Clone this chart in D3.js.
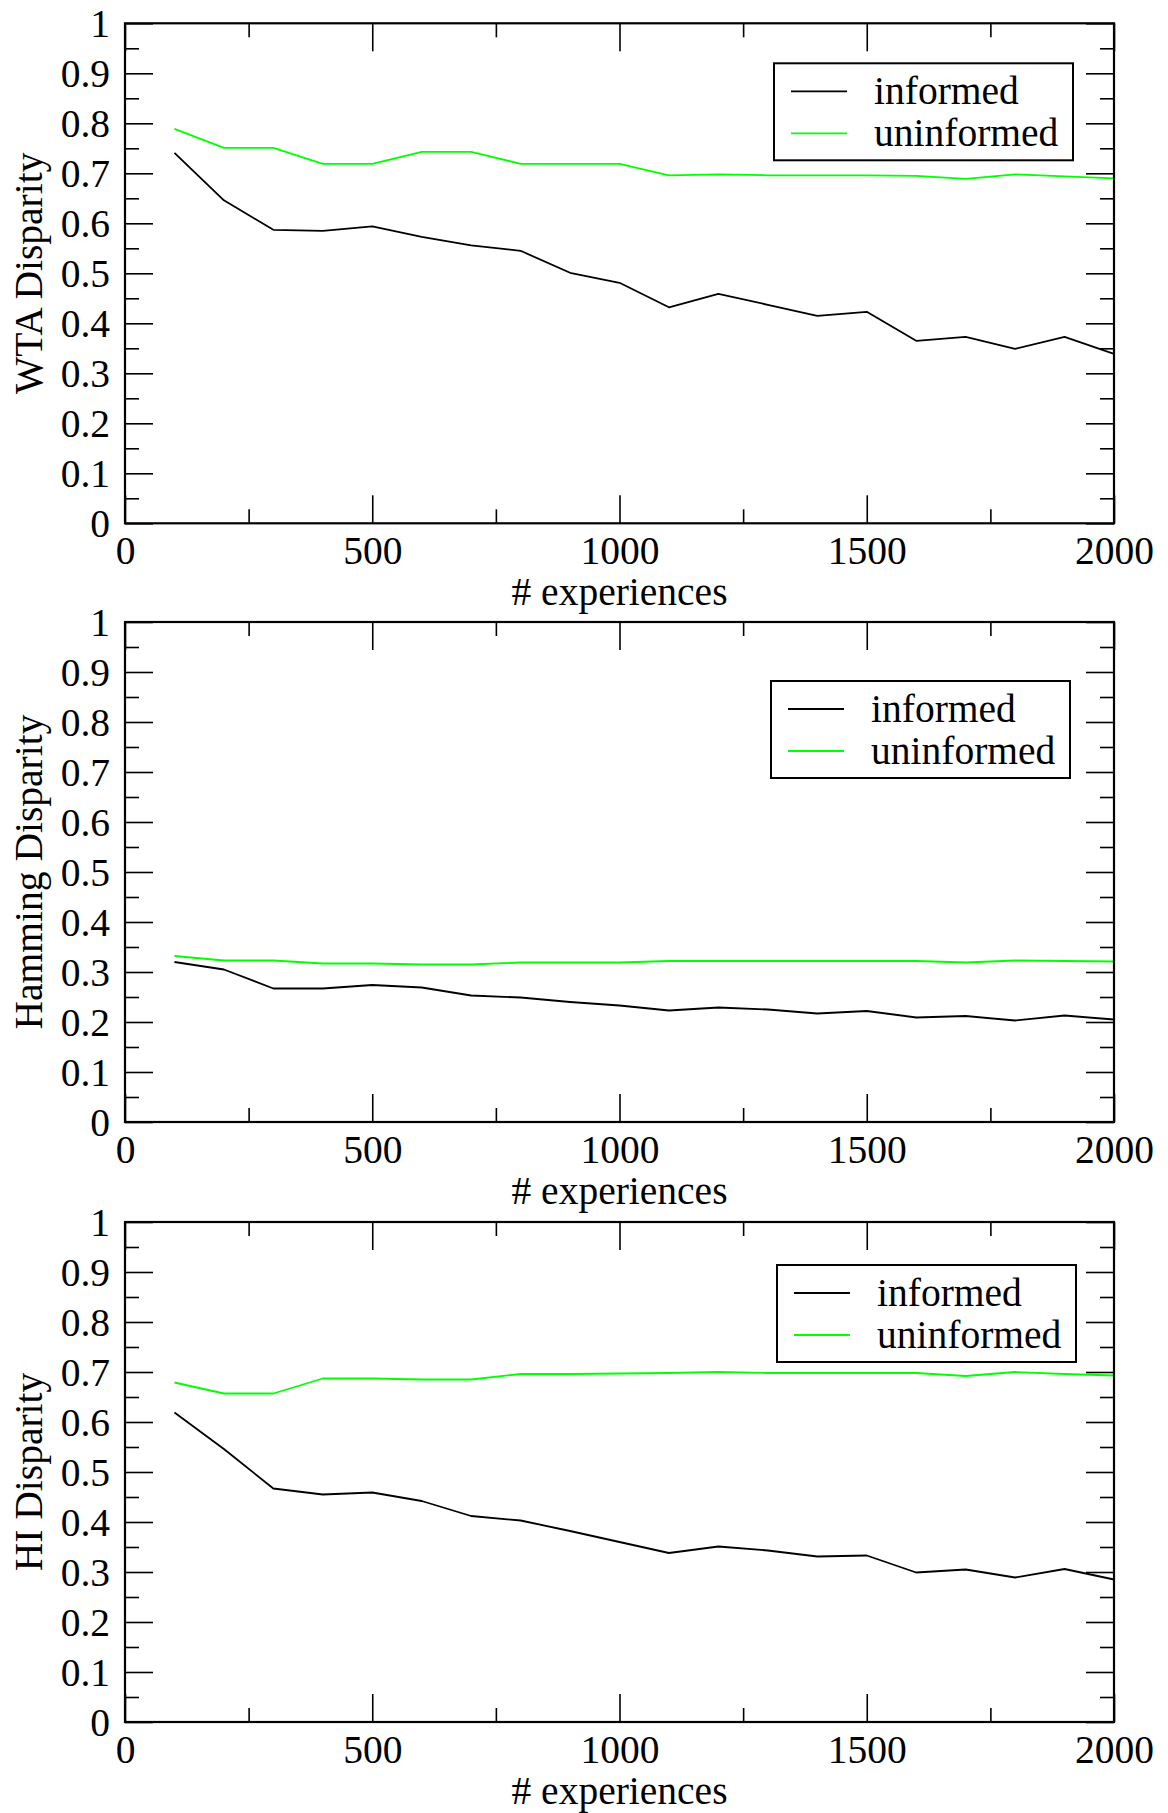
<!DOCTYPE html>
<html>
<head>
<meta charset="utf-8">
<script src="https://cdn.jsdelivr.net/npm/d3@7"></script>
<style>
  html, body { margin: 0; padding: 0; background: #fff; }
  svg { display: block; }
  text { font-family: "Liberation Serif", "Times New Roman", serif; fill: #000; }
</style>
</head>
<body>
<svg id="chart" width="1168" height="1813"></svg>
<script>
// x values: number of experiences
const experiences = [100, 200, 300, 400, 500, 600, 700, 800, 900, 1000,
                     1100, 1200, 1300, 1400, 1500, 1600, 1700, 1800, 1900, 2000];

// WTA disparity
const wtaInformed   = [0.741, 0.646, 0.587, 0.585, 0.594, 0.573, 0.556, 0.545, 0.501, 0.481,
                       0.432, 0.459, 0.437, 0.415, 0.423, 0.365, 0.373, 0.349, 0.373, 0.339];
const wtaUninformed = [0.789, 0.751, 0.751, 0.719, 0.719, 0.743, 0.743, 0.719, 0.719, 0.719,
                       0.696, 0.698, 0.696, 0.696, 0.696, 0.695, 0.689, 0.698, 0.694, 0.690];

// Hamming disparity
const hammingInformed   = [0.320, 0.305, 0.267, 0.267, 0.274, 0.269, 0.253, 0.249, 0.240, 0.233,
                           0.223, 0.229, 0.225, 0.217, 0.222, 0.209, 0.212, 0.203, 0.213, 0.205];
const hammingUninformed = [0.332, 0.323, 0.323, 0.317, 0.317, 0.315, 0.315, 0.319, 0.319, 0.319,
                           0.322, 0.322, 0.322, 0.322, 0.322, 0.322, 0.319, 0.323, 0.322, 0.321];

// HI disparity
const hiInformed   = [0.619, 0.546, 0.467, 0.455, 0.459, 0.442, 0.412, 0.403, 0.382, 0.360,
                      0.338, 0.351, 0.343, 0.331, 0.333, 0.299, 0.305, 0.289, 0.306, 0.285];
const hiUninformed = [0.679, 0.657, 0.657, 0.687, 0.687, 0.685, 0.685, 0.696, 0.696, 0.697,
                      0.698, 0.700, 0.698, 0.698, 0.698, 0.698, 0.692, 0.700, 0.696, 0.693];

// series names and colours
const seriesNames  = ["informed", "uninformed"];
const seriesColors = ["#000000", "#00ff00"];

// panel titles
const yTitles = ["WTA Disparity", "Hamming Disparity", "HI Disparity"];
const xTitle = "# experiences";

// ticks
const xMajorTicks = [0, 500, 1000, 1500, 2000];
const xMinorTicks = [250, 750, 1250, 1750];
const xTickLabels = ["0", "500", "1000", "1500", "2000"];
const yMajorTicks = [0, 0.1, 0.2, 0.3, 0.4, 0.5, 0.6, 0.7, 0.8, 0.9, 1];
const yMinorTicks = [0.05, 0.15, 0.25, 0.35, 0.45, 0.55, 0.65, 0.75, 0.85, 0.95];
const yTickLabels = ["0", "0.1", "0.2", "0.3", "0.4", "0.5", "0.6", "0.7", "0.8", "0.9", "1"];

const panels = [
  { title: yTitles[0], series: [wtaInformed, wtaUninformed] },
  { title: yTitles[1], series: [hammingInformed, hammingUninformed] },
  { title: yTitles[2], series: [hiInformed, hiUninformed] }
];

// ---- layout ----
const plotLeft = 125, plotWidth = 989, plotHeight = 500;
const plotTops = [23.3, 622, 1222];
const legendPos = [[774, 40], [771, 59], [777, 43]];   // [x, offset from panel top]
const legendW = 299, legendH = 97;
const fontSize = 39.5;
const majorLen = 28, minorLen = 14;

const svg = d3.select("#chart");

const x = d3.scaleLinear().domain([0, 2000]).range([0, plotWidth]);

panels.forEach((panel, i) => {
  const g = svg.append("g").attr("transform", `translate(${plotLeft},${plotTops[i]})`);
  const y = d3.scaleLinear().domain([0, 1]).range([plotHeight, 0]);

  // data lines
  const line = d3.line()
    .x((d, k) => x(experiences[k]))
    .y(d => y(d));
  panel.series.forEach((vals, s) => {
    g.append("path")
      .datum(vals)
      .attr("fill", "none")
      .attr("stroke", seriesColors[s])
      .attr("stroke-width", 1.8)
      .attr("stroke-linejoin", "round")
      .attr("d", line);
  });

  // axis helper: strips domain paths, styles ticks
  function styleAxis(sel) {
    sel.select(".domain").remove();
    sel.selectAll(".tick line").attr("stroke", "#000").attr("stroke-width", 1.6);
    sel.selectAll(".tick text").style("font-size", fontSize + "px")
      .style("font-family", '"Liberation Serif", "Times New Roman", serif').attr("fill", "#000");
  }

  // bottom axis with labels
  const xb = g.append("g").attr("transform", `translate(0,${plotHeight})`)
    .call(d3.axisBottom(x).tickValues(xMajorTicks)
      .tickFormat((d, k) => xTickLabels[k]).tickSize(-majorLen));
  styleAxis(xb);
  xb.selectAll(".tick text").attr("y", 41).attr("dy", 0);
  g.append("g").attr("transform", `translate(0,${plotHeight})`)
    .call(d3.axisBottom(x).tickValues(xMinorTicks).tickFormat("").tickSize(-minorLen))
    .call(styleAxis);

  // top mirror ticks
  g.append("g").call(d3.axisTop(x).tickValues(xMajorTicks).tickFormat("").tickSize(-majorLen)).call(styleAxis);
  g.append("g").call(d3.axisTop(x).tickValues(xMinorTicks).tickFormat("").tickSize(-minorLen)).call(styleAxis);

  // left axis with labels
  const yl = g.append("g")
    .call(d3.axisLeft(y).tickValues(yMajorTicks)
      .tickFormat((d, k) => yTickLabels[k]).tickSize(-majorLen).tickPadding(15));
  styleAxis(yl);
  yl.selectAll(".tick text").attr("dy", "0.33em");
  g.append("g").call(d3.axisLeft(y).tickValues(yMinorTicks).tickFormat("").tickSize(-minorLen)).call(styleAxis);

  // right mirror ticks
  g.append("g").attr("transform", `translate(${plotWidth},0)`)
    .call(d3.axisRight(y).tickValues(yMajorTicks).tickFormat("").tickSize(-majorLen)).call(styleAxis);
  g.append("g").attr("transform", `translate(${plotWidth},0)`)
    .call(d3.axisRight(y).tickValues(yMinorTicks).tickFormat("").tickSize(-minorLen)).call(styleAxis);

  // frame
  g.append("rect")
    .attr("x", 0).attr("y", 0)
    .attr("width", plotWidth).attr("height", plotHeight)
    .attr("fill", "none").attr("stroke", "#000").attr("stroke-width", 2.2);

  // axis titles
  g.append("text")
    .attr("x", plotWidth / 2).attr("y", plotHeight + 82)
    .attr("text-anchor", "middle")
    .style("font-size", fontSize + "px")
    .text(xTitle);
  g.append("text")
    .attr("transform", `translate(${42 - plotLeft},${plotHeight / 2}) rotate(-90)`)
    .attr("text-anchor", "middle")
    .style("font-size", fontSize + "px")
    .text(panel.title);

  // legend
  const lg = svg.append("g")
    .attr("transform", `translate(${legendPos[i][0]},${plotTops[i] + legendPos[i][1]})`);
  lg.append("rect")
    .attr("width", legendW).attr("height", legendH)
    .attr("fill", "#fff").attr("stroke", "#000").attr("stroke-width", 2);
  seriesNames.forEach((name, s) => {
    const yy = 28 + s * 42;
    lg.append("line")
      .attr("x1", 17).attr("x2", 73).attr("y1", yy).attr("y2", yy)
      .attr("stroke", seriesColors[s]).attr("stroke-width", 1.8);
    lg.append("text")
      .attr("x", 100).attr("y", yy + 13)
      .style("font-size", fontSize + "px")
      .text(name);
  });
});
</script>
</body>
</html>
